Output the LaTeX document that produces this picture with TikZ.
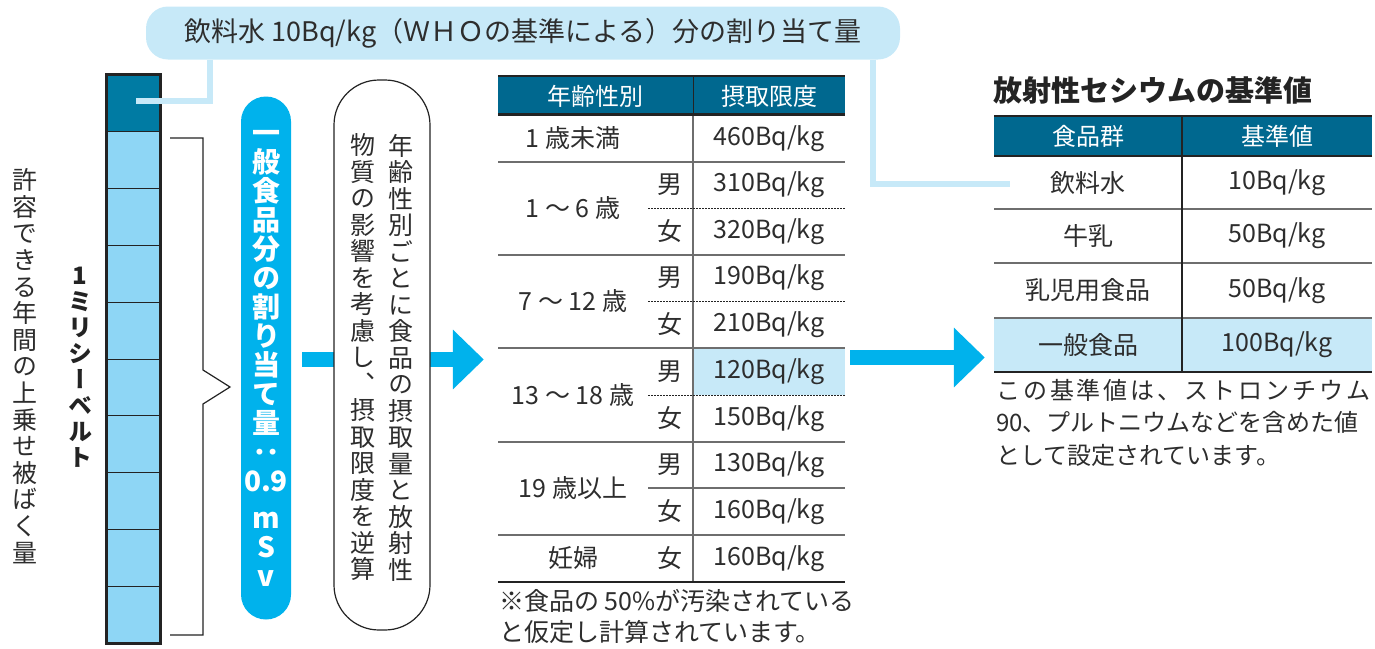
\documentclass[tikz,border=0pt]{standalone}
\usepackage{fontspec}
\setmainfont{Noto Sans CJK JP}
\newfontfamily\jp{Noto Sans CJK JP}
\newfontfamily\vjp{Noto Sans CJK JP}[RawFeature=+vert]
\usetikzlibrary{arrows.meta}
\definecolor{hdr}{RGB}{0,104,143}
\definecolor{darkcell}{RGB}{0,123,163}
\definecolor{lightcell}{RGB}{142,214,245}
\definecolor{cyanc}{RGB}{0,178,236}
\definecolor{pale}{RGB}{199,233,248}
\definecolor{txt}{RGB}{45,45,45}
\definecolor{rulec}{RGB}{110,110,110}
\definecolor{dk}{RGB}{35,35,35}
\tikzset{
  T/.style={text=txt, font=\jp\fontsize{25}{28}\selectfont, inner sep=0},
  TH/.style={text=white, font=\jp\fontsize{24}{28}\selectfont, inner sep=0},
  V/.style={align=center, inner sep=0, text=txt},
  conn/.style={draw=pale, line width=6pt},
  arr/.style={draw=cyanc, line width=15pt, -{Triangle[length=31pt,width=58pt]}},
  cellbox/.style={minimum width=53pt, minimum height=56.8pt, inner sep=0, draw=dk, line width=1pt},
  banner/.style={fill=pale, rounded corners=22pt, minimum width=754pt, minimum height=53pt, inner sep=0, text=txt, font=\jp\fontsize{27}{30}\selectfont},
  pill/.style={fill=cyanc, rounded corners=25pt, minimum width=50pt, minimum height=523pt, inner sep=0, align=center, text=white, font=\vjp\bfseries\fontsize{28}{29}\selectfont},
  rbox/.style={draw=dk, line width=1.2pt, fill=white, rounded corners=45pt, minimum width=96pt, minimum height=550pt, inner sep=0},
  brace/.style={draw=dk, line width=1.2pt},
  thin/.style={draw=rulec, line width=1.3pt},
  thick/.style={draw=dk, line width=2.5pt},
  dots/.style={draw=dk, line width=1pt, dash pattern=on 1.5pt off 1.5pt},
  area/.style={inner sep=0, draw=none}
}
\begin{document}
\begin{tikzpicture}[x=1pt,y=-1pt]
\useasboundingbox (0,0) rectangle (1375,648);

% ---- banner
\node[banner] (banner) at (523,33) {飲料水 10Bq/kg（ＷＨＯの基準による）分の割り当て量};

% ---- bar
\node[cellbox, fill=darkcell] (c0) at (133.5,103.4) {};
\foreach \i in {1,...,9}
  \node[cellbox, fill=lightcell] (c\i) at (133.5,103.4+56.8*\i) {};
\draw[draw=dk, line width=2.5pt] (c0.north west) rectangle (c9.south east);

% ---- connectors from banner
\coordinate (d1) at (136,101);
\coordinate (d2) at (1010,184);
\draw[conn] ([xshift=-313pt]banner.south) |- (d1);
\draw[conn] ([xshift=350pt]banner.south) |- (d2);

% ---- bracket
\draw[brace] (170,138) -| (203,370) -- (230,387) -- (203,404) |- (170,635);

% ---- left vertical labels
\node[V, font=\vjp\fontsize{25}{26.6}\selectfont] (lbl) at (25,366)
  {許\\容\\で\\き\\る\\年\\間\\の\\上\\乗\\せ\\被\\ば\\く\\量};
\node[V, text=dk, font=\vjp\bfseries\fontsize{24}{26}\selectfont] (onemsv) at (80,367)
  {1\\ミ\\リ\\シ\\ー\\ベ\\ル\\ト};

% ---- pill
\node[pill] (pill) at (266,358)
  {一\\般\\食\\品\\分\\の\\割\\り\\当\\て\\量\\：\\0.9\\[8pt]m\\S\\v};

% ---- table areas (for connectors)
\node[area, minimum width=347pt, minimum height=506pt] (tbl1) at (671.5,329) {};
\node[area, minimum width=378pt, minimum height=256pt] (tbl2) at (1183,244) {};

% ---- arrow 1 and rounded box
\draw[arr] ([shift={(11,1.5)}]pill.east) -- ([shift={(-14,30.5)}]tbl1.west);
\node[rbox] (box) at (382,355) {};
\node[V, font=\vjp\fontsize{25}{26.5}\selectfont] (boxr) at (401,357.5)
  {年\\齢\\性\\別\\ご\\と\\に\\食\\品\\の\\摂\\取\\量\\と\\放\\射\\性};
\node[V, font=\vjp\fontsize{25}{26.5}\selectfont] (boxl) at (363,357.5)
  {物\\質\\の\\影\\響\\を\\考\\慮\\し\\、\\摂\\取\\限\\度\\を\\逆\\算};

% ---- table 1
\fill[hdr] (498,76) rectangle (845,114.5);
\fill[pale] (693,348) rectangle (845,395);
\draw[draw=dk, line width=2pt] (498,76) -- (845,76);
\draw[draw=dk, line width=1pt] (693,76) -- (693,114.5);
\draw[thin] (693,114.5) -- (693,582);
\foreach \yy in {162,255,348,442,535} \draw[thin] (498,\yy) -- (845,\yy);
\foreach \yy in {208,301,395} \draw[dots] (648,\yy) -- (845,\yy);
\draw[thin] (648,488) -- (845,488);
\draw[thick] (498,114.5) -- (845,114.5);
\draw[thick] (498,582) -- (845,582);

\node[TH] (h1) at (595.5,96) {年齢性別};
\node[TH] (h2) at (769,96) {摂取限度};

\node[T] (a0) at (573,138.5) {1 歳未満};
\node[T] (a1) at (573,208) {1 ～ 6 歳};
\node[T] (a2) at (573,301) {7 ～ 12 歳};
\node[T] (a3) at (573,395) {13 ～ 18 歳};
\node[T] (a4) at (573,488) {19 歳以上};
\node[T] (a5) at (573,558.5) {妊婦};

\node[T] (s1) at (670,185) {男};
\node[T] (s2) at (670,231.5) {女};
\node[T] (s3) at (670,278) {男};
\node[T] (s4) at (670,324.5) {女};
\node[T] (s5) at (670,371.5) {男};
\node[T] (s6) at (670,418.5) {女};
\node[T] (s7) at (670,465) {男};
\node[T] (s8) at (670,511.5) {女};
\node[T] (s9) at (670,558.5) {女};

\node[T] (v0) at (769,138.5) {460Bq/kg};
\node[T] (v1) at (769,185) {310Bq/kg};
\node[T] (v2) at (769,231.5) {320Bq/kg};
\node[T] (v3) at (769,278) {190Bq/kg};
\node[T] (v4) at (769,324.5) {210Bq/kg};
\node[T] (v5) at (769,371.5) {120Bq/kg};
\node[T] (v6) at (769,418.5) {150Bq/kg};
\node[T] (v7) at (769,465) {130Bq/kg};
\node[T] (v8) at (769,511.5) {160Bq/kg};
\node[T] (v9) at (769,558.5) {160Bq/kg};

\node[T, anchor=north west, align=left, font=\jp\fontsize{25}{31}\selectfont] (note1) at (499,589)
  {※食品の 50\%が汚染されている\\と仮定し計算されています。};

% ---- arrow 2
\draw[arr] ([shift={(5,28.5)}]tbl1.east) -- ([shift={(-9,113.5)}]tbl2.west);

% ---- table 2
\node[T, anchor=west, text=dk, font=\jp\bfseries\fontsize{29}{32}\selectfont] (title) at (993,90) {放射性セシウムの基準値};
\fill[hdr] (994,116) rectangle (1372,156);
\fill[pale] (994,318) rectangle (1372,372);
\draw[draw=dk, line width=2pt] (994,116) -- (1372,116);
\foreach \yy in {209,263,318} \draw[thin] (994,\yy) -- (1372,\yy);
\draw[draw=dk, line width=1.3pt] (1182,116) -- (1182,372);
\draw[thick] (994,156) -- (1372,156);
\draw[thick] (994,372) -- (1372,372);

\node[TH] (g1) at (1088,136) {食品群};
\node[TH] (g2) at (1277,136) {基準値};
\node[T] (f1) at (1088,182.5) {飲料水};
\node[T] (f2) at (1088,236) {牛乳};
\node[T] (f3) at (1088,290.5) {乳児用食品};
\node[T] (f4) at (1088,345) {一般食品};
\node[T] (w1) at (1277,182.5) {10Bq/kg};
\node[T] (w2) at (1277,236) {50Bq/kg};
\node[T] (w3) at (1277,290.5) {50Bq/kg};
\node[T] (w4) at (1277,345) {100Bq/kg};

\node[T, anchor=north west, align=left, font=\jp\fontsize{24}{32.5}\selectfont] (note2) at (996,379)
  {\makebox[374pt]{こ\hfill の\hfill 基\hfill 準\hfill 値\hfill は\hfill 、\hfill ス\hfill ト\hfill ロ\hfill ン\hfill チ\hfill ウ\hfill ム}\\
   90、プルトニウムなどを含めた値\\
   として設定されています。};
\end{tikzpicture}
\end{document}
